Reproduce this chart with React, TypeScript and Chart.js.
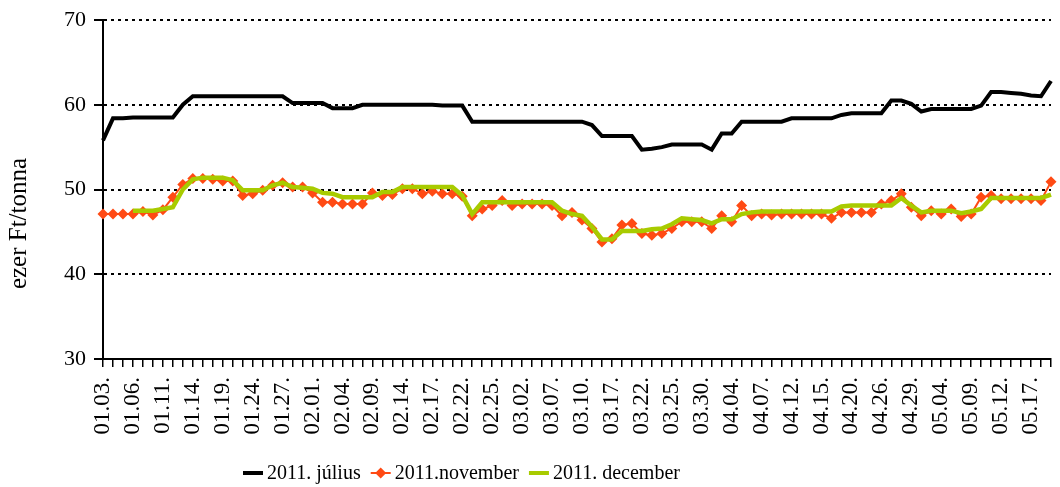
import React, { useEffect, useRef } from 'react';
import { Chart, registerables } from 'chart.js';

Chart.register(...registerables);

const FONT = '"Liberation Serif", "Times New Roman", serif';

const dates = [
  '01.03.', '01.04.', '01.05.', '01.06.', '01.07.', '01.10.', '01.11.', '01.12.', '01.13.', '01.14.',
  '01.17.', '01.18.', '01.19.', '01.20.', '01.21.', '01.24.', '01.25.', '01.26.', '01.27.', '01.28.',
  '01.31.', '02.01.', '02.02.', '02.03.', '02.04.', '02.07.', '02.08.', '02.09.', '02.10.', '02.11.',
  '02.14.', '02.15.', '02.16.', '02.17.', '02.18.', '02.21.', '02.22.', '02.23.', '02.24.', '02.25.',
  '02.28.', '03.01.', '03.02.', '03.03.', '03.04.', '03.07.', '03.08.', '03.09.', '03.10.', '03.11.',
  '03.16.', '03.17.', '03.18.', '03.21.', '03.22.', '03.23.', '03.24.', '03.25.', '03.28.', '03.29.',
  '03.30.', '03.31.', '04.01.', '04.04.', '04.05.', '04.06.', '04.07.', '04.08.', '04.11.', '04.12.',
  '04.13.', '04.14.', '04.15.', '04.18.', '04.19.', '04.20.', '04.21.', '04.22.', '04.26.', '04.27.',
  '04.28.', '04.29.', '05.02.', '05.03.', '05.04.', '05.05.', '05.06.', '05.09.', '05.10.', '05.11.',
  '05.12.', '05.13.', '05.16.', '05.17.', '05.18.', '05.19.',
];

const julius = [
  55.8, 58.4, 58.4, 58.5, 58.5, 58.5, 58.5, 58.5, 60.0, 61.0,
  61.0, 61.0, 61.0, 61.0, 61.0, 61.0, 61.0, 61.0, 61.0, 60.2,
  60.2, 60.2, 60.2, 59.6, 59.6, 59.6, 60.0, 60.0, 60.0, 60.0,
  60.0, 60.0, 60.0, 60.0, 59.9, 59.9, 59.9, 58.0, 58.0, 58.0,
  58.0, 58.0, 58.0, 58.0, 58.0, 58.0, 58.0, 58.0, 58.0, 57.6,
  56.3, 56.3, 56.3, 56.3, 54.7, 54.8, 55.0, 55.3, 55.3, 55.3,
  55.3, 54.7, 56.6, 56.6, 58.0, 58.0, 58.0, 58.0, 58.0, 58.4,
  58.4, 58.4, 58.4, 58.4, 58.8, 59.0, 59.0, 59.0, 59.0, 60.5,
  60.5, 60.1, 59.2, 59.5, 59.5, 59.5, 59.5, 59.5, 59.9, 61.5,
  61.5, 61.4, 61.3, 61.1, 61.0, 62.8,
];

const november = [
  47.1, 47.1, 47.1, 47.1, 47.4, 47.0, 47.6, 49.1, 50.6, 51.3,
  51.3, 51.2, 51.0, 51.0, 49.3, 49.5, 49.9, 50.5, 50.8, 50.3,
  50.3, 49.6, 48.5, 48.5, 48.3, 48.3, 48.3, 49.6, 49.3, 49.4,
  50.1, 50.1, 49.5, 49.8, 49.5, 49.5, 49.2, 46.9, 47.7, 48.1,
  48.7, 48.1, 48.3, 48.3, 48.3, 48.1, 46.9, 47.3, 46.4, 45.4,
  43.8, 44.2, 45.8, 46.0, 44.8, 44.6, 44.8, 45.4, 46.2, 46.2,
  46.2, 45.4, 46.9, 46.2, 48.1, 46.9, 47.1, 47.0, 47.1, 47.1,
  47.1, 47.1, 47.1, 46.6, 47.3, 47.3, 47.3, 47.3, 48.3, 48.7,
  49.5, 47.9, 46.9, 47.5, 47.1, 47.7, 46.8, 47.1, 49.1, 49.3,
  48.9, 48.9, 48.9, 48.9, 48.7, 50.9,
];

const december = [
  null, null, null, 47.5, 47.5, 47.5, 47.7, 47.9, 50.0, 51.2,
  51.4, 51.4, 51.4, 51.1, 49.9, 49.9, 49.9, 50.5, 50.8, 50.3,
  50.2, 50.1, 49.6, 49.5, 49.1, 49.1, 49.1, 49.1, 49.7, 49.7,
  50.3, 50.3, 50.3, 50.3, 50.3, 50.3, 49.3, 47.1, 48.5, 48.5,
  48.5, 48.5, 48.5, 48.5, 48.5, 48.5, 47.5, 47.1, 46.9, 45.6,
  44.1, 44.1, 45.1, 45.1, 45.1, 45.3, 45.4, 45.9, 46.6, 46.5,
  46.4, 46.0, 46.5, 46.5, 47.1, 47.3, 47.4, 47.4, 47.4, 47.4,
  47.4, 47.4, 47.4, 47.4, 48.0, 48.1, 48.1, 48.1, 48.1, 48.1,
  49.0, 48.1, 47.3, 47.5, 47.5, 47.5, 47.2, 47.4, 47.7, 49.0,
  49.0, 49.0, 49.0, 49.0, 49.0, 49.4,
];

const seriesNames = ['2011. július', '2011.november', '2011. december'];
const seriesColors = ['#000000', '#FF4A14', '#A8CB00'];
const yTitle = 'ezer Ft/tonna';
const yMin = 30;
const yMax = 70;
const yStep = 10;

const overlayPlugin = {
  id: 'overlay',
  afterDraw(chart: any) {
    const ctx = chart.ctx as CanvasRenderingContext2D;
    const area = chart.chartArea;
    // y-axis title
    ctx.save();
    ctx.fillStyle = '#000';
    ctx.font = `25px ${FONT}`;
    ctx.textAlign = 'center';
    ctx.textBaseline = 'middle';
    ctx.translate(19, (area.top + area.bottom) / 2 + 34);
    ctx.rotate(-Math.PI / 2);
    ctx.fillText(yTitle, 0, 0);
    ctx.restore();

    // legend
    ctx.save();
    ctx.font = `20px ${FONT}`;
    ctx.textBaseline = 'middle';
    ctx.textAlign = 'left';
    const cy = 473;
    let x = 243;
    seriesNames.forEach((name, i) => {
      const color = seriesColors[i];
      ctx.strokeStyle = color;
      ctx.lineWidth = i === 1 ? 2 : 4;
      ctx.beginPath();
      ctx.moveTo(x, cy);
      ctx.lineTo(x + 20, cy);
      ctx.stroke();
      if (i === 1) {
        ctx.fillStyle = color;
        ctx.beginPath();
        ctx.moveTo(x + 10, cy - 5.5);
        ctx.lineTo(x + 15.5, cy);
        ctx.lineTo(x + 10, cy + 5.5);
        ctx.lineTo(x + 4.5, cy);
        ctx.closePath();
        ctx.fill();
      }
      ctx.fillStyle = '#000';
      ctx.fillText(name, x + 24, cy + 1);
      x += 24 + ctx.measureText(name).width + 10;
    });
    ctx.restore();
  },
};

export default function App() {
  const canvasRef = useRef<HTMLCanvasElement | null>(null);

  useEffect(() => {
    document.body.style.margin = '0';
    const canvas = canvasRef.current;
    if (!canvas) return;
    const chart = new Chart(canvas, {
      type: 'line',
      data: {
        labels: dates,
        datasets: [
          {
            label: seriesNames[0],
            data: julius,
            borderColor: seriesColors[0],
            backgroundColor: seriesColors[0],
            borderWidth: 4,
            pointRadius: 0,
            tension: 0,
            order: 3,
          },
          {
            label: seriesNames[1],
            data: november,
            borderColor: seriesColors[1],
            backgroundColor: seriesColors[1],
            borderWidth: 2,
            pointStyle: 'rectRot',
            pointRadius: 5.5,
            pointBorderWidth: 0,
            pointBackgroundColor: seriesColors[1],
            tension: 0,
            order: 2,
            clip: 10,
          },
          {
            label: seriesNames[2],
            data: december,
            borderColor: seriesColors[2],
            backgroundColor: seriesColors[2],
            borderWidth: 4.5,
            pointRadius: 0,
            tension: 0,
            order: 1,
          },
        ],
      },
      options: {
        animation: false,
        responsive: false,
        devicePixelRatio: 1,
        layout: { padding: { top: 20, right: 9, left: 0, bottom: 0 } },
        plugins: {
          legend: { display: false },
          tooltip: { enabled: false },
        },
        scales: {
          x: {
            type: 'category',
            offset: false,
            afterFit: (s: any) => {
              s.height = 128;
              s.paddingRight = 0;
              s.paddingLeft = 0;
            },
            grid: {
              display: true,
              drawOnChartArea: false,
              drawTicks: true,
              tickLength: 8,
              color: '#000',
              lineWidth: 1.5,
            },
            border: { display: true, color: '#000', width: 2 },
            ticks: {
              autoSkip: false,
              maxRotation: 90,
              minRotation: 90,
              padding: 10,
              color: '#000',
              font: { family: FONT, size: 23 },
              callback: (_v: any, i: number) => (i % 3 === 0 ? dates[i] : ''),
            },
          },
          y: {
            min: yMin,
            max: yMax,
            afterFit: (s: any) => {
              s.width = 103;
              s.paddingTop = 0;
              s.paddingBottom = 0;
            },
            grid: {
              color: '#000',
              lineWidth: 2,
              drawTicks: true,
              tickLength: 9,
              tickWidth: 2,
              tickBorderDash: [],
            },
            border: { display: true, color: '#000', width: 2, dash: [3, 4] },
            ticks: {
              stepSize: yStep,
              padding: 8,
              color: '#000',
              font: { family: FONT, size: 22 },
            },
          },
        },
      },
      plugins: [overlayPlugin],
    } as any);
    return () => chart.destroy();
  }, []);

  return (
    <div style={{ position: 'absolute', left: 0, top: 0, width: 1060, height: 487, background: '#fff' }}>
      <canvas ref={canvasRef} width={1060} height={487} style={{ display: 'block' }} />
    </div>
  );
}
